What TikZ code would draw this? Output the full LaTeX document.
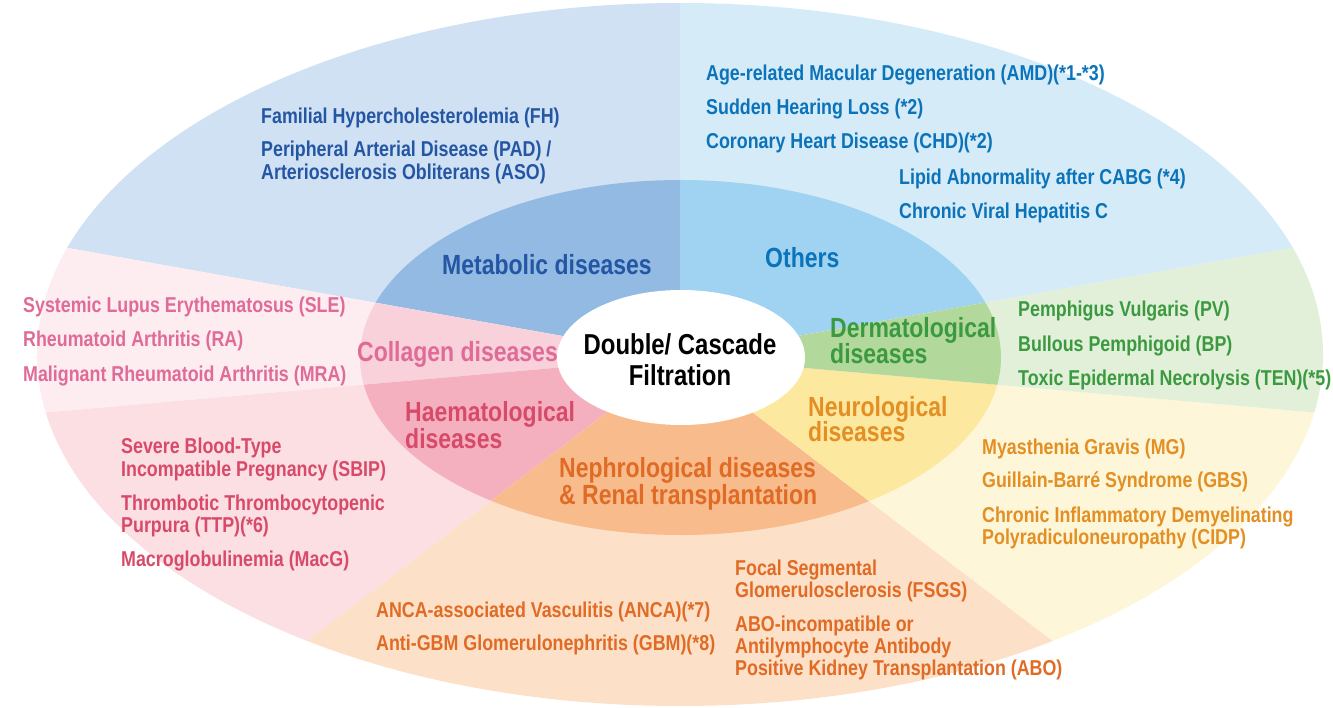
\documentclass[tikz,border=0pt]{standalone}
\usepackage{fontspec}
\setmainfont{Liberation Sans}[FakeStretch=0.83]
\usetikzlibrary{calc}
\definecolor{metOut}{HTML}{D0E1F3}\definecolor{metMid}{HTML}{92BAE2}\definecolor{metTxt}{HTML}{2456A4}
\definecolor{othOut}{HTML}{D6EBF8}\definecolor{othMid}{HTML}{9FD3F1}\definecolor{othTxt}{HTML}{0A73B9}
\definecolor{derOut}{HTML}{E2EFD9}\definecolor{derMid}{HTML}{B3D89C}\definecolor{derTxt}{HTML}{3B9A40}
\definecolor{neuOut}{HTML}{FDF6D8}\definecolor{neuMid}{HTML}{FDE89F}\definecolor{neuTxt}{HTML}{E38F24}
\definecolor{nepOut}{HTML}{FDE0C8}\definecolor{nepMid}{HTML}{F8BB8C}\definecolor{nepTxt}{HTML}{E06B25}
\definecolor{haeOut}{HTML}{FBDFE3}\definecolor{haeMid}{HTML}{F5B0C0}\definecolor{haeTxt}{HTML}{D84A6A}
\definecolor{colOut}{HTML}{FDEDF0}\definecolor{colMid}{HTML}{F8D1DA}\definecolor{colTxt}{HTML}{E06A98}
\tikzset{
  itemtxt/.style={font=\fontsize{21.5}{23}\selectfont\bfseries, anchor=base west, inner sep=0pt},
  cattxt/.style={font=\fontsize{27.7}{30}\selectfont\bfseries, anchor=base west, inner sep=0pt},
  hubtxt/.style={font=\fontsize{28.8}{31}\selectfont\bfseries, anchor=base, inner sep=0pt, text=black},
}
\newcommand{\sector}[4]{% start angle, end angle, outer colour, middle colour
  \begin{scope}
    \clip (680,357) -- ($(680,357)+(-#1:1500)$) -- ($(680,357)+(-#2:1500)$) -- cycle;
    \fill[#3] (680,354.5) ellipse [x radius=643pt, y radius=351.5pt];
    \fill[#4] (680.5,357.5) ellipse [x radius=320.5pt, y radius=177.5pt];
  \end{scope}}
\begin{document}
\begin{tikzpicture}[x=1pt,y=-1pt]
\useasboundingbox (0,0) rectangle (1333,708);
\sector{10.1}{90}{othOut}{othMid}
\sector{90}{169.9}{metOut}{metMid}
\sector{169.9}{185}{colOut}{colMid}
\sector{185}{217.3}{haeOut}{haeMid}
\sector{217.3}{322.7}{nepOut}{nepMid}
\sector{322.7}{355}{neuOut}{neuMid}
\sector{355}{370.1}{derOut}{derMid}
\fill[white] (681,357.5) ellipse [x radius=124pt, y radius=67.5pt];
% hub
\node[hubtxt] (hub1) at (680,355) {Double/ Cascade};
\node[hubtxt] (hub2) at (680,385) {Filtration};
% categories
\node[cattxt, text=metTxt] (catmet) at (442,275) {Metabolic diseases};
\node[cattxt, text=othTxt] (catoth) at (765,268) {Others};
\node[cattxt, text=colTxt] (catcol) at (357,362) {Collagen diseases};
\node[cattxt, text=haeTxt] (cathae1) at (405,421) {Haematological};
\node[cattxt, text=haeTxt] (cathae2) at (405,448) {diseases};
\node[cattxt, text=nepTxt] (catnep1) at (559,477.5) {Nephrological diseases};
\node[cattxt, text=nepTxt] (catnep2) at (559,504) {\& Renal transplantation};
\node[cattxt, text=neuTxt] (catneu1) at (808,416) {Neurological};
\node[cattxt, text=neuTxt] (catneu2) at (808,441) {diseases};
\node[cattxt, text=derTxt] (catder1) at (830,338) {Dermatological};
\node[cattxt, text=derTxt] (catder2) at (830,364) {diseases};
% metabolic
\node[itemtxt, text=metTxt] (fh) at (261,124) {Familial Hypercholesterolemia (FH)};
\node[itemtxt, text=metTxt] (pad) at (261,157) {Peripheral Arterial Disease (PAD) /};
\node[itemtxt, text=metTxt] (aso) at (261,180) {Arteriosclerosis Obliterans (ASO)};
% others
\node[itemtxt, text=othTxt] (amd) at (706,81) {Age-related Macular Degeneration (AMD)(*1-*3)};
\node[itemtxt, text=othTxt] (shl) at (706,115) {Sudden Hearing Loss (*2)};
\node[itemtxt, text=othTxt] (chd) at (706,149) {Coronary Heart Disease (CHD)(*2)};
\node[itemtxt, text=othTxt] (cabg) at (899,185) {Lipid Abnormality after CABG (*4)};
\node[itemtxt, text=othTxt] (hep) at (899,219) {Chronic Viral Hepatitis C};
% collagen
\node[itemtxt, text=colTxt] (sle) at (23,313) {Systemic Lupus Erythematosus (SLE)};
\node[itemtxt, text=colTxt] (ra) at (23,347) {Rheumatoid Arthritis (RA)};
\node[itemtxt, text=colTxt] (mra) at (23,381.5) {Malignant Rheumatoid Arthritis (MRA)};
% haematological
\node[itemtxt, text=haeTxt] (sbip1) at (121,453) {Severe Blood-Type};
\node[itemtxt, text=haeTxt] (sbip2) at (121,476) {Incompatible Pregnancy (SBIP)};
\node[itemtxt, text=haeTxt] (ttp1) at (121,510) {Thrombotic Thrombocytopenic};
\node[itemtxt, text=haeTxt] (ttp2) at (121,532) {Purpura (TTP)(*6)};
\node[itemtxt, text=haeTxt] (macg) at (121,566) {Macroglobulinemia (MacG)};
% nephrological
\node[itemtxt, text=nepTxt] (anca) at (376,617) {ANCA-associated Vasculitis (ANCA)(*7)};
\node[itemtxt, text=nepTxt] (gbm) at (376,650) {Anti-GBM Glomerulonephritis (GBM)(*8)};
\node[itemtxt, text=nepTxt] (fsgs1) at (735,575) {Focal Segmental};
\node[itemtxt, text=nepTxt] (fsgs2) at (735,597) {Glomerulosclerosis (FSGS)};
\node[itemtxt, text=nepTxt] (abo1) at (735,631) {ABO-incompatible or};
\node[itemtxt, text=nepTxt] (abo2) at (735,653) {Antilymphocyte Antibody};
\node[itemtxt, text=nepTxt] (abo3) at (735,675.5) {Positive Kidney Transplantation (ABO)};
% neurological
\node[itemtxt, text=neuTxt] (mg) at (982,454) {Myasthenia Gravis (MG)};
\node[itemtxt, text=neuTxt] (gbs) at (982,487.5) {Guillain-Barré Syndrome (GBS)};
\node[itemtxt, text=neuTxt] (cidp1) at (982,522) {Chronic Inflammatory Demyelinating};
\node[itemtxt, text=neuTxt] (cidp2) at (982,544) {Polyradiculoneuropathy (CIDP)};
% dermatological
\node[itemtxt, text=derTxt] (pv) at (1018,317) {Pemphigus Vulgaris (PV)};
\node[itemtxt, text=derTxt] (bp) at (1018,352) {Bullous Pemphigoid (BP)};
\node[itemtxt, text=derTxt] (ten) at (1018,385) {Toxic Epidermal Necrolysis (TEN)(*5)};
\end{tikzpicture}
\end{document}
